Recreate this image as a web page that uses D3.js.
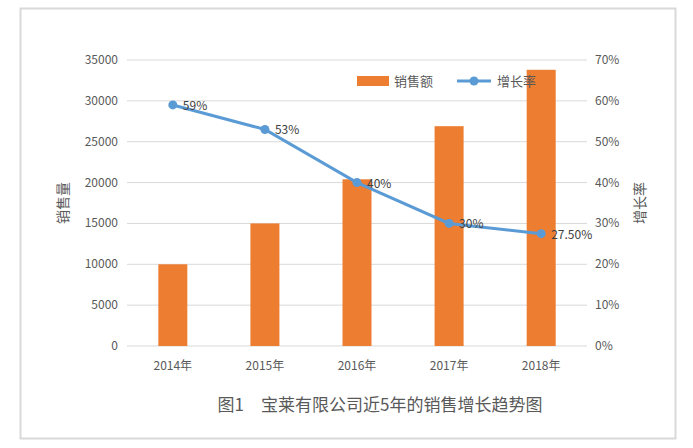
<!DOCTYPE html><html><head><meta charset="utf-8"><script src="https://cdn.jsdelivr.net/npm/d3@7"></script>
<style>body{margin:0;background:#fff}text{font-family:"Noto Sans CJK SC","Noto Sans",sans-serif;fill:#595959}</style></head><body><svg id="c" width="693" height="448"></svg><script>
const categories=["2014年","2015年","2016年","2017年","2018年"];
const sales=[10000,15000,20400,26900,33800];
const growth=[0.59,0.53,0.40,0.30,0.275];
const growthLabels=["59%","53%","40%","30%","27.50%"];
const leftTicks=[0,5000,10000,15000,20000,25000,30000,35000];
const rightTicks=[0,0.1,0.2,0.3,0.4,0.5,0.6,0.7];
const svg=d3.select("#c");
svg.append("rect").attr("x",20.5).attr("y",8.5).attr("width",655).attr("height",430).attr("fill","none").attr("stroke","#d9d9d9").attr("stroke-width",2);
const x=d3.scaleBand().domain(categories).range([127,587]).paddingInner(0.685).paddingOuter(0.34);
const y=d3.scaleLinear().domain([0,35000]).range([346,60]);
const y2=d3.scaleLinear().domain([0,0.7]).range([346,60]);
svg.append("g").selectAll("line").data(leftTicks).join("line").attr("x1",127).attr("x2",587).attr("y1",d=>y(d)).attr("y2",d=>y(d)).attr("stroke","#d9d9d9").attr("stroke-width",1);
svg.append("g").selectAll("text").data(leftTicks).join("text").attr("x",118).attr("y",d=>y(d)+4).attr("text-anchor","end").attr("font-size",12).text(d=>d);
svg.append("g").selectAll("text").data(rightTicks).join("text").attr("x",595).attr("y",d=>y2(d)+4).attr("font-size",12).text(d=>Math.round(d*100)+"%");
svg.append("g").selectAll("text").data(categories).join("text").attr("x",d=>x(d)+x.bandwidth()/2).attr("y",370).attr("text-anchor","middle").attr("font-size",12).text(d=>d);
svg.append("g").selectAll("rect").data(sales).join("rect").attr("x",(d,i)=>x(categories[i])).attr("width",x.bandwidth()).attr("y",d=>y(d)).attr("height",d=>346-y(d)).attr("fill","#ed7d31");
const cx=i=>x(categories[i])+x.bandwidth()/2;
svg.append("path").datum(growth).attr("d",d3.line().x((d,i)=>cx(i)).y(d=>y2(d))).attr("fill","none").attr("stroke","#5b9bd5").attr("stroke-width",3);
svg.append("g").selectAll("circle").data(growth).join("circle").attr("cx",(d,i)=>cx(i)).attr("cy",d=>y2(d)).attr("r",4.5).attr("fill","#5b9bd5");
svg.append("g").selectAll("text").data(growth).join("text").attr("x",(d,i)=>cx(i)+10).attr("y",d=>y2(d)+5).attr("font-size",12).attr("fill","#404040").style("fill","#404040").text((d,i)=>growthLabels[i]);
svg.append("rect").attr("x",357).attr("y",76).attr("width",32).attr("height",10).attr("fill","#ed7d31");
svg.append("text").attr("x",394).attr("y",86).attr("font-size",13).text("销售额");
svg.append("line").attr("x1",457).attr("x2",491).attr("y1",81).attr("y2",81).attr("stroke","#5b9bd5").attr("stroke-width",3);
svg.append("circle").attr("cx",474).attr("cy",81).attr("r",4.5).attr("fill","#5b9bd5");
svg.append("text").attr("x",497).attr("y",86).attr("font-size",13).text("增长率");
svg.append("text").attr("transform","translate(68,203) rotate(-90)").attr("text-anchor","middle").attr("font-size",14).text("销售量");
svg.append("text").attr("transform","translate(645,203) rotate(-90)").attr("text-anchor","middle").attr("font-size",14).text("增长率");
svg.append("text").attr("x",380).attr("y",411).attr("text-anchor","middle").attr("font-size",17).attr("font-family","'Noto Serif CJK SC','Noto Sans CJK SC',serif").text("图1\u3000宝莱有限公司近5年的销售增长趋势图");
</script></body></html>
